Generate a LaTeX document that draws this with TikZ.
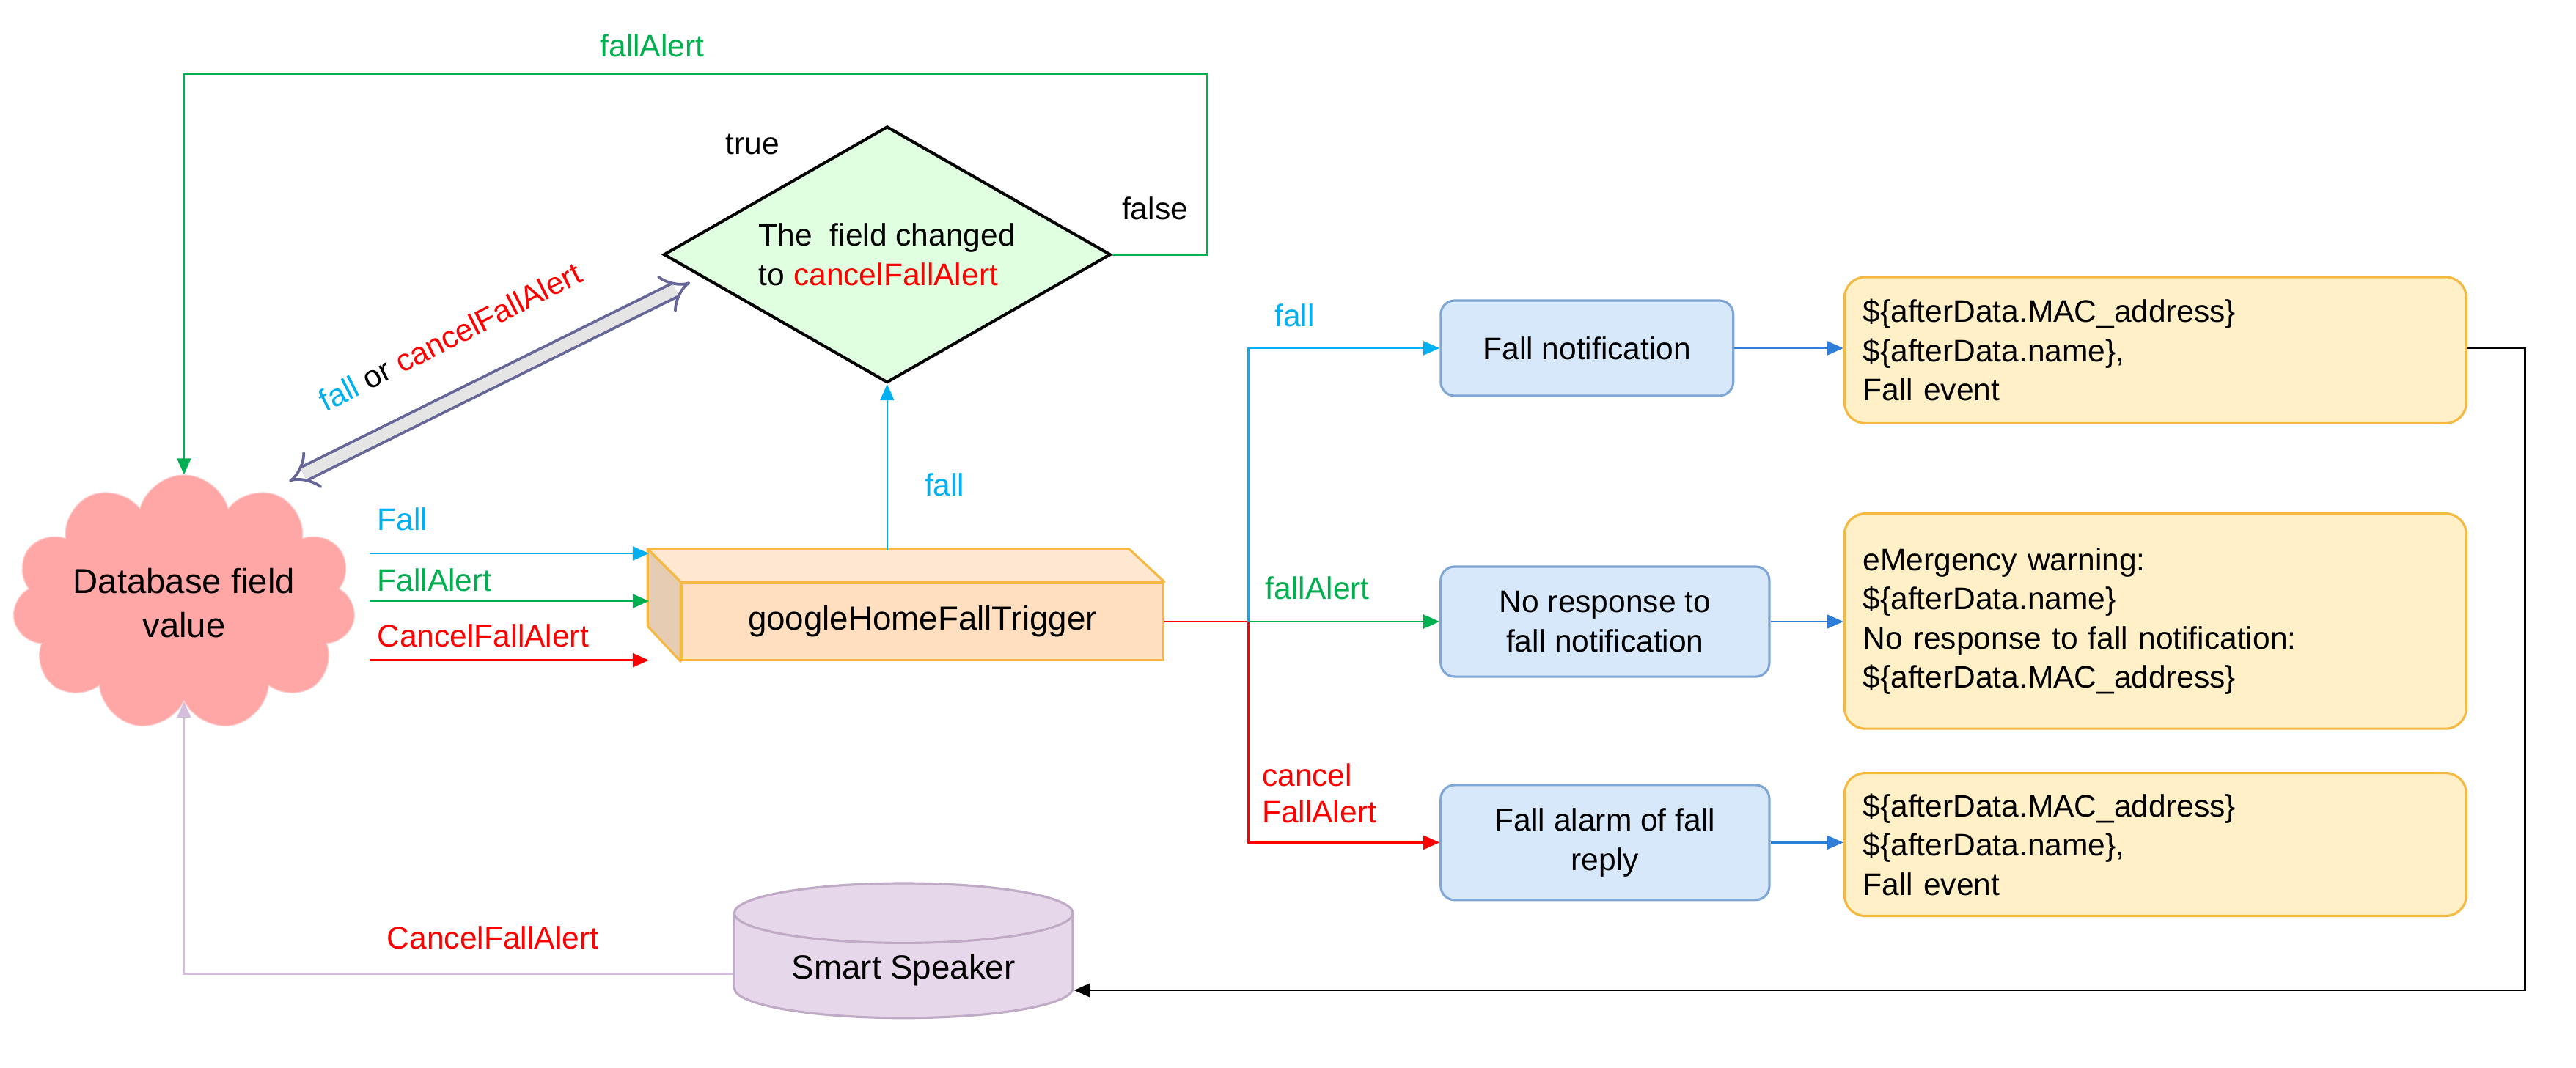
\documentclass[tikz,border=0pt]{standalone}
\usepackage{fontspec}
\setmainfont{Liberation Sans}
\usetikzlibrary{shapes.geometric,shapes.symbols,arrows.meta}
\definecolor{cb}{HTML}{00B0F0}
\definecolor{cg}{HTML}{00B050}
\definecolor{cr}{HTML}{FF0000}
\definecolor{bfill}{HTML}{D6E8FA}
\definecolor{bdraw}{HTML}{7FA7D6}
\definecolor{ofill}{HTML}{FFF0C8}
\definecolor{odraw}{HTML}{F5B942}
\definecolor{arrb}{HTML}{2E7DD7}
\definecolor{lav}{HTML}{D5BEDC}
\begin{document}
\begin{tikzpicture}[x=0.025cm,y=-0.025cm,
  lbl/.style={font=\fontsize{13.5}{16}\selectfont,inner sep=1pt},
  bbox/.style={draw=bdraw,fill=bfill,rounded corners=6pt,line width=1pt,align=center,font=\fontsize{13.5}{17}\selectfont},
  obox/.style={draw=odraw,fill=ofill,rounded corners=9pt,line width=1pt,align=left,font=\fontsize{13.5}{17}\selectfont,anchor=north west,inner xsep=8pt,text width=8.9cm},
  arr/.style={-{Triangle[length=7pt,width=6pt]},line width=0.8pt}]
\useasboundingbox (0,0) rectangle (1568,650);
% cloud
\node[cloud,cloud puffs=11,aspect=1.6,fill=red!35!white,draw=red!20!white,minimum width=3.4cm,minimum height=2.4cm,inner sep=0pt,align=center,font=\fontsize{15}{19}\selectfont] (db) at (112,367) {Database field\\value};
% diamond
\node[diamond,aspect=1.74,draw,line width=1.3pt,fill=green!12!white,minimum width=6.8cm,minimum height=3.9cm,inner sep=0,align=left,font=\fontsize{13.5}{17}\selectfont] (dia) at (540,155) {The\ \ field changed\\to \textcolor{cr}{cancelFallAlert}};
\node[lbl] at (458,88) {true};
\node[lbl] at (703,127) {false};
% trigger box
\node[draw=odraw,fill=orange!25!white,line width=1pt,minimum width=7.325cm,minimum height=1.175cm,inner sep=0,font=\fontsize{14.5}{17}\selectfont] (trig) at (561.5,378.5) {googleHomeFallTrigger};
\fill[orange!18!white,draw=odraw,line width=1pt,line join=round] (trig.north west) -- ++(-20,-20) -- ++(293,0) -- (trig.north east) -- cycle;
\fill[brown!40!white,draw=odraw,line width=1pt,line join=round] (trig.north west) -- ++(-20,-20) -- ++(0,47) -- (trig.south west) -- cycle;
% input arrows
\coordinate (fa) at (225,337); \coordinate (fb) at (225,366); \coordinate (fc) at (225,402);
\draw[arr,cb] (fa) -- (395,337); \node[lbl,cb,anchor=west] at (228,316) {Fall};
\draw[arr,cg] (fb) -- (395,366); \node[lbl,cg,anchor=west] at (228,353) {FallAlert};
\draw[arr,cr] (fc) -- (395,402); \node[lbl,cr,anchor=west] at (228,387) {CancelFallAlert};
% trigger up
\draw[arr,cb] (540,335) -- (dia.south); \node[lbl,cb] at (575,295) {fall};
% false loop
\draw[arr,cg] (dia.east) -- (735,155) -- (735,45) -- (112,45) -- (db.north);
\node[lbl,cg] at (397,28) {fallAlert};
% double arrow
\coordinate (da) at (176,293); \coordinate (dz) at (420,172);
\draw[double distance=5pt,line width=1.2pt,draw=gray!80!blue,{Implies}-{Implies},double=gray!20] (da) -- (dz);
\node[lbl,rotate=27] at (274,205) {\textcolor{cb}{fall} or \textcolor{cr}{cancelFallAlert}};
% boxes
\node[bbox,minimum width=4.45cm,minimum height=1.45cm] (b1) at (966,212) {Fall notification};
\node[bbox,minimum width=5cm,minimum height=1.675cm] (b2) at (977,378.5) {No response to\\fall notification};
\node[bbox,minimum width=5cm,minimum height=1.75cm] (b3) at (977,513) {Fall alarm of fall\\reply};
\node[obox,minimum height=2.225cm] (o1) at (1122,168) {\$\{afterData.MAC\_address\}\\\$\{afterData.name\},\\Fall event};
\node[obox,minimum height=3.275cm] (o2) at (1122,312) {eMergency warning:\\\$\{afterData.name\}\\No response to fall notification:\\\$\{afterData.MAC\_address\}};
\node[obox,minimum height=2.175cm] (o3) at (1122,470) {\$\{afterData.MAC\_address\}\\\$\{afterData.name\},\\Fall event};
% branches
\coordinate (br) at (760,378.5);
\draw[cr,line width=0.8pt] (trig.east) -- (br);
\draw[arr,cb] (br) -- (760,212) -- (b1.west); \node[lbl,cb] at (788,192) {fall};
\draw[arr,cg] (br) -- (b2.west); \node[lbl,cg] at (802,358) {fallAlert};
\draw[arr,cr] (br) -- (760,513) -- (b3.west); \node[lbl,cr,align=left] at (803,483) {cancel\\FallAlert};
\draw[arr,arrb] (b1.east) -- (b1.east -| o1.west);
\draw[arr,arrb] (b2.east) -- (b2.east -| o2.west);
\draw[arr,arrb] (b3.east) -- (b3.east -| o3.west);
% speaker
\node[cylinder,shape border rotate=90,aspect=0.25,draw=lav!90!black,fill=lav!60!white,line width=1pt,minimum width=5.15cm,minimum height=2.05cm,font=\fontsize{14.5}{17}\selectfont] (sp) at (550,591) {\raisebox{-8pt}{Smart Speaker}};
\draw[arr,black] (b1.east -| o1.east) -- (1537,212) -- (1537,603) -- (sp.east |- 0,603);
\draw[arr,lav] (sp.west |- 0,593) -- (112,593) -- (db.south);
\node[lbl,cr] at (300,571) {CancelFallAlert};
\end{tikzpicture}
\end{document}
